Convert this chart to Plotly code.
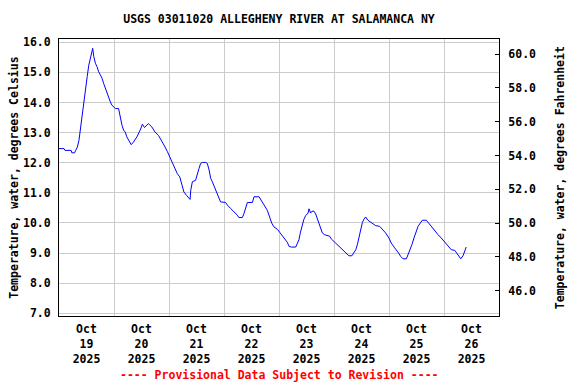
import plotly.graph_objects as go
import pandas as pd

# Hours since 2025-10-19 00:00 and water temperature (deg C)
hours = [0, 2.2, 2.6, 5.3, 5.6, 6.8, 7.3, 8, 8.7, 9.4, 10.1, 10.8, 11.6, 12.3, 13, 13.7,
         14.5, 14.7, 15.2, 15.9, 16.6, 17.3, 18.1, 18.8, 19.5, 20.2, 21, 21.7, 22.4, 23.1,
         23.9, 24.6, 26, 26.7, 27.5, 28.2, 28.9, 29.6, 30.4, 31.1, 31.5, 32.5, 34, 35.4,
         36.4, 37.3, 38.3, 39, 40.5, 41.9, 43.4, 44.8, 46.3, 47.3, 48.3, 49.5, 50.6, 51.6,
         52.7, 53.5, 54.5, 55.6, 56.7, 57.2, 57.5, 58.2, 59.6, 60.4, 61.1, 61.8, 62.5, 64,
         64.7, 65.5, 66.2, 66.9, 68.1, 69.1, 69.8, 70.5, 72.7, 73.5, 74.9, 76.4, 77.8, 78.5,
         80, 80.7, 81.5, 82.2, 84.4, 85.1, 87.3, 88, 89.5, 90.9, 91.9, 92.8, 93.8, 95.3,
         96.3, 97.5, 98.5, 99.6, 100.4, 101.4, 103.3, 103.9, 104.7, 105.3, 105.9, 106.8,
         107.6, 108.7, 109.1, 109.8, 110.4, 111.3, 112, 112.7, 113.5, 114.2, 114.9, 115.9,
         118.1, 118.8, 120.3, 121.7, 123.2, 124.7, 126.5, 127.8, 128.5, 129.5, 130.2, 130.9,
         131.6, 132.4, 133.1, 133.8, 134.8, 136.3, 138.2, 139.9, 141.4, 142.5, 144, 145,
         146.2, 147.2, 148.2, 149.1, 150.1, 151.6, 152.3, 153, 154, 154.9, 156, 156.7,
         157.7, 158.5, 160.3, 161, 162.2, 163.2, 164.2, 165.4, 166.8, 168.3, 169.7, 171.2,
         172.7, 174.1, 175.3, 176.3, 177, 177.7]
temp_c = [12.47, 12.47, 12.41, 12.41, 12.33, 12.33, 12.41, 12.52, 12.74, 13.19, 13.63, 14.08,
          14.52, 14.86, 15.24, 15.47, 15.69, 15.8, 15.52, 15.3, 15.19, 15.02, 14.91, 14.8,
          14.63, 14.47, 14.3, 14.13, 14.02, 13.91, 13.86, 13.8, 13.8, 13.52, 13.24, 13.08,
          13.02, 12.86, 12.74, 12.66, 12.6, 12.69, 12.86, 13.08, 13.28, 13.17, 13.24, 13.3,
          13.19, 13.02, 12.91, 12.74, 12.52, 12.37, 12.2, 11.98, 11.81, 11.64, 11.53, 11.26,
          11.03, 10.92, 10.81, 10.78, 11.09, 11.37, 11.42, 11.59, 11.81, 11.98, 12.01, 12.01,
          11.98, 11.76, 11.48, 11.37, 11.14, 10.98, 10.84, 10.7, 10.68, 10.59, 10.48, 10.37,
          10.26, 10.18, 10.18, 10.31, 10.53, 10.68, 10.68, 10.87, 10.87, 10.78, 10.59, 10.42,
          10.2, 10.0, 9.87, 9.79, 9.69, 9.56, 9.44, 9.36, 9.22, 9.2, 9.2, 9.31, 9.44, 9.67,
          9.89, 10.11, 10.24, 10.33, 10.47, 10.33, 10.39, 10.39, 10.3, 10.13, 9.94, 9.8, 9.67,
          9.61, 9.56, 9.47, 9.36, 9.24, 9.13, 9.02, 8.91, 8.91, 9.0, 9.11, 9.28, 9.5, 9.78,
          10.02, 10.13, 10.2, 10.09, 10.0, 9.91, 9.89, 9.78, 9.67, 9.5, 9.33, 9.2, 9.11, 9.0,
          8.89, 8.81, 8.81, 8.94, 9.09, 9.28, 9.5, 9.76, 9.89, 10.0, 10.09, 10.09, 10.02,
          9.94, 9.83, 9.72, 9.61, 9.5, 9.36, 9.22, 9.11, 9.09, 8.94, 8.81, 8.91, 9.06, 9.2]

day_labels = ["Oct<br>19<br>2025", "Oct<br>20<br>2025", "Oct<br>21<br>2025", "Oct<br>22<br>2025",
              "Oct<br>23<br>2025", "Oct<br>24<br>2025", "Oct<br>25<br>2025", "Oct<br>26<br>2025"]
c_ticks = [7, 8, 9, 10, 11, 12, 13, 14, 15, 16]
f_ticks = [46, 48, 50, 52, 54, 56, 58, 60]

start = pd.Timestamp("2025-10-19 00:00")
times = [start + pd.Timedelta(hours=h) for h in hours]
temp_f = [c * 1.8 + 32 for c in temp_c]
day_mid = [start + pd.Timedelta(hours=12 + 24 * i) for i in range(len(day_labels))]
day_edges = [start + pd.Timedelta(days=i) for i in range(9)]

FONT = "DejaVu Sans Mono"
fnt = dict(family=FONT, size=11.5, color="black", weight="bold")

fig = go.Figure()
fig.add_trace(go.Scatter(x=times, y=temp_c, mode="lines",
                         line=dict(color="#0000FF", width=1), showlegend=False))
fig.add_trace(go.Scatter(x=times, y=temp_f, mode="lines", yaxis="y2",
                         line=dict(color="rgba(0,0,0,0)", width=0), showlegend=False,
                         hoverinfo="skip"))

fig.update_layout(
    width=576, height=384,
    margin=dict(l=59, r=77, t=39, b=68, autoexpand=False),
    paper_bgcolor="white", plot_bgcolor="white",
    font=fnt,
    title=dict(text="USGS 03011020 ALLEGHENY RIVER AT SALAMANCA NY", x=0.5, xref="paper",
               y=0.95, yanchor="middle", font=fnt),
    xaxis=dict(range=[day_edges[0], day_edges[-1]], tickmode="array", tickvals=day_mid,
               ticktext=day_labels, ticks="", showgrid=False, showline=True, mirror=True,
               linecolor="black", linewidth=1, zeroline=False, tickfont=fnt,
               ticklabelstandoff=2,
               minor=dict(tickmode="array", tickvals=day_edges, showgrid=True,
                          gridcolor="#cccccc", gridwidth=1, ticks="")),
    yaxis=dict(range=[6.91, 16.11], tickmode="array", tickvals=c_ticks,
               tickformat=".1f", ticks="", showgrid=True, gridcolor="#cccccc", gridwidth=1,
               showline=True, linecolor="black", linewidth=1, zeroline=False,
               tickfont=fnt, ticklabelstandoff=5),
    yaxis2=dict(range=[44.5, 60.9], overlaying="y", side="right", tickmode="array",
                tickvals=f_ticks, tickformat=".1f", ticks="inside", ticklen=4,
                tickcolor="black", showgrid=False, showline=True, linecolor="black",
                linewidth=1, zeroline=False, tickfont=fnt, ticklabelstandoff=6),
    annotations=[
        dict(text="Temperature, water, degrees Celsius", xref="paper", yref="paper",
             x=-0.104, y=0.5, textangle=-90, showarrow=False, font=fnt,
             xanchor="center", yanchor="middle"),
        dict(text="Temperature, water, degrees Fahrenheit", xref="paper", yref="paper",
             x=1.138, y=0.5, textangle=-90, showarrow=False, font=fnt,
             xanchor="center", yanchor="middle"),
        dict(text="---- Provisional Data Subject to Revision ----", xref="paper",
             yref="paper", x=0.5, y=-0.212, showarrow=False,
             font=dict(family=FONT, size=11.5, color="#FF0000", weight="bold"),
             xanchor="center", yanchor="middle"),
    ],
)

fig.write_html("out.html", config={"displayModeBar": False},
               post_script="document.body.style.margin='0';document.body.style.overflow='hidden';")
